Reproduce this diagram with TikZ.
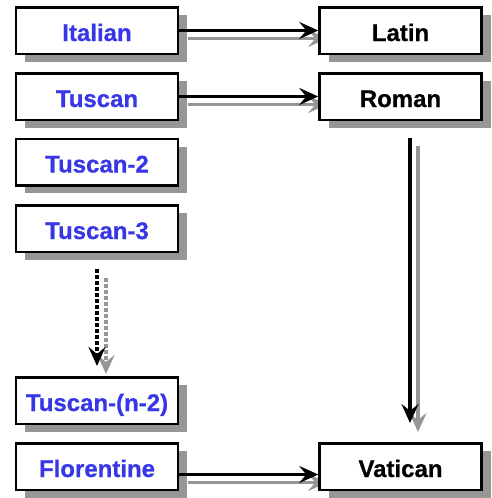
\documentclass[tikz,border=0pt]{standalone}
\usepackage{fontspec}
\setmainfont{Liberation Sans}[BoldFeatures={FakeBold=0.6}]
\usetikzlibrary{arrows.meta,shadows,backgrounds}
\definecolor{txtblue}{RGB}{55,55,230}
\definecolor{shgray}{RGB}{150,150,150}
\tikzset{
  box/.style={draw=black, line width=2.5pt, fill=white, rectangle, inner sep=0pt,
    minimum width=162pt, minimum height=46.5pt, text height=21pt, text depth=0pt,
    font=\fontsize{24}{28}\selectfont\bfseries,
    drop shadow={shadow xshift=9pt, shadow yshift=-8pt, fill=shgray, opacity=1}},
  lbox/.style={box, text=txtblue},
  rbox/.style={box, text=black},
  arr/.style={draw=black, line width=3.5pt, -{Stealth[length=19pt,width=17pt,inset=7pt]}},
  garr/.style={arr, draw=shgray, fill=shgray},
  darr/.style={arr, dash pattern=on 3.5pt off 2.5pt},
  gdarr/.style={garr, dash pattern=on 3.5pt off 2.5pt}
}
\begin{document}
\begin{tikzpicture}[x=1pt,y=-1pt]
\useasboundingbox (0,0) rectangle (491,498);
\node[lbox] (it) at (97,30.5) {Italian};
\node[lbox] (tu) at (97,96.5) {Tuscan};
\node[lbox] (t2) at (97,162) {Tuscan-2};
\node[lbox] (t3) at (97,228.5) {Tuscan-3};
\node[lbox] (tn) at (97,400.5) {Tuscan-(n-2)};
\node[lbox] (fl) at (97,466.5) {Florentine};
\node[rbox] (la) at (400.5,30.5) {Latin};
\node[rbox] (ro) at (400.5,96.5) {Roman};
\node[rbox] (va) at (400.5,466.5) {Vatican};
\begin{scope}[on background layer]
  \draw[garr] ([shift={(9,8)}]it.east) -- ([shift={(9,8)}]la.west);
  \draw[garr] ([shift={(9,8)}]tu.east) -- ([shift={(9,8)}]ro.west);
  \draw[garr] ([shift={(9,16)}]fl.east) -- ([shift={(9,16)}]va.west);
  \draw[garr] ([shift={(17.5,25)}]ro.south) -- ([shift={(17.5,-10)}]va.north);
  \draw[gdarr] ([shift={(9,25)}]t3.south) -- ([shift={(9,-2)}]tn.north);
\end{scope}
\draw[arr] (it.east) -- (la.west);
\draw[arr] (tu.east) -- (ro.west);
\draw[arr] ([yshift=-8pt]fl.east) -- ([yshift=-8pt]va.west);
\draw[arr] ([shift={(9.5,17)}]ro.south) -- ([shift={(9.5,-19)}]va.north);
\draw[darr] ([shift={(0,16)}]t3.south) -- ([shift={(0,-10)}]tn.north);
\end{tikzpicture}
\end{document}
